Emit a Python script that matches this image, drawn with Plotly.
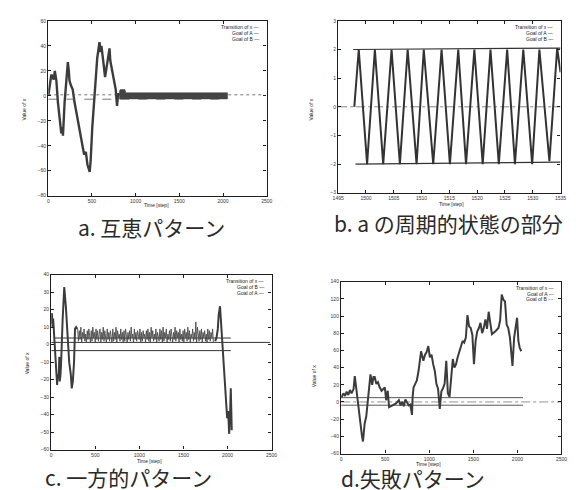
import plotly.graph_objects as go

W, H = 583, 490

# ---------------- data ----------------
# a. reciprocal pattern
a_t = [0, 19, 35, 48, 62, 75, 93, 110, 131, 149, 160, 168, 187, 205, 224, 235, 243, 261, 280,
       300, 317, 335, 354, 372, 392, 410, 430, 448, 474, 485, 504, 522, 541, 560, 586, 598,
       608, 620, 634, 650, 660, 683, 701, 710, 720, 735, 746, 760, 772, 787, 800, 812]
a_x = [0, 10, 17, 15, 13, 20, 12, -5, -22, -30, -25, -32, -5, 15, 27, 20, 12, 8, 5,
       -5, -12, -18, -25, -32, -40, -47, -45, -55, -61, -52, -25, -5, 10, 30, 43, 35,
       40, 30, 25, 15, 20, 32, 38, 28, 24, 20, 16, 10, 5, -8, 2, 0]
a_band_t = [812, 822, 878, 888, 2052]
a_band_hi = [3, 5, 5, 2.5, 2.5]
a_band_lo = [-2.5, -2.5, -2.5, -2.5, -2.5]
a_goalA_t = [0, 2450]
a_goalA_y = [0.8, 0.8]
a_goalB_t = [0, 2052]
a_goalB_y = [-2.7, -2.7]

# b. part of the periodic state of a
b_t = [1497.9, 1498.7, 1500.2, 1501.6, 1503.1, 1504.6, 1506.1, 1507.5, 1509.1, 1510.4,
       1512.1, 1513.6, 1515.1, 1516.6, 1518.0, 1519.5, 1521.0, 1522.4, 1523.9, 1525.4,
       1526.8, 1528.3, 1529.9, 1531.2, 1533.0, 1534.4, 1535.0]
b_x = [0, 2, -2, 2, -2, 2, -2, 2, -2, 2, -2, 2, -2, 2, -2, 2, -2, 2, -2, 2,
       -2, 2, -2, 2, -1.9, 2.05, 1.2]
b_goalA_t = [1497.7, 1535]
b_goalA_y = [2, 2.05]
b_goalB_t = [1498.1, 1535]
b_goalB_y = [-2, -1.93]
b_zero_t = [1495, 1535]
b_zero_y = [0, 0]

# c. one-sided pattern
c_head_t = [0, 8, 15, 22, 30, 37, 48, 56, 67, 74, 85, 92, 96, 104, 111, 130, 148, 167,
            185, 204, 222, 233, 245, 259, 270, 283, 296]
c_head_x = [12, 18, 10, 15, 8, 2, -4, -17, -23, -17, -19, -7, -21, -18, -12, 15, 33, 21,
            4, -10, -17, -25, -21, -10, 9, 10, 9]
c_band = [9, 2, 8, 3, 10, 1, 7, 4, 9, 2, 6, 1, 8, 3, 9, 5, 1, 8, 2, 10, 4, 7, 1, 9, 3, 8,
          2, 6, 9, 1, 7, 3, 10, 2, 8, 4, 1, 9, 3, 7, 2, 8, 5, 1, 9, 2, 7, 3, 10, 1, 8, 4,
          6, 2, 9, 3, 7, 1, 8, 2, 9, 4, 1, 7, 3, 8, 2, 10, 4, 6, 1, 9, 3, 7, 2, 8, 4, 3,
          9, 1, 7, 2, 8, 4, 6, 1, 8, 3, 9, 2, 7, 1, 10, 4, 8, 2, 6, 3, 9, 1, 7, 5, 2, 9,
          3, 8, 1, 10, 2, 7, 4, 9, 1, 6, 3, 8, 2, 9, 5, 1, 7, 3, 10, 2, 8, 4, 7, 1, 9, 3,
          6, 2, 8, 1, 9, 4, 7, 2, 10, 3, 8, 1, 6, 4, 9, 2, 7, 3, 13, 1, 10, 5, 2, 8, 3, 9,
          1, 7, 4, 8, 2, 6, 1, 9, 3, 8, 2, 7, 4, 9, 1]
c_band_start, c_band_end = 300, 1840
c_tail_t = [1860, 1875, 1890, 1900, 1915, 1930, 1948, 1967, 1985, 1996, 2007, 2019, 2030,
            2037, 2044, 2048]
c_tail_x = [2, 4, 9, 17, 22, 10, -2, -15, -34, -42, -38, -51, -38, -25, -40, -49]
c_goalB_t = [37, 2037, None, 0, 2037]
c_goalB_y = [3.8, 3.8, None, -3.4, -3.4]
c_goalA_t = [0, 2481]
c_goalA_y = [1.3, 1.3]

# d. failure pattern
d_t = [0, 26, 44, 63, 82, 100, 118, 141, 155, 181, 211, 237, 248, 267, 285, 304, 322, 333,
       352, 367, 381, 400, 418, 437, 459, 481, 496, 511, 529, 544, 581, 619, 655, 674,
       692, 711, 729, 767, 785, 804, 811, 822, 841, 859, 878, 896, 907, 933, 952, 970,
       989, 1007, 1026, 1044, 1063, 1081, 1100, 1119, 1137, 1156, 1174, 1193, 1211, 1230,
       1248, 1267, 1285, 1304, 1322, 1341, 1359, 1378, 1396, 1415, 1433, 1452, 1470, 1489,
       1507, 1526, 1544, 1563, 1581, 1600, 1618, 1637, 1655, 1674, 1692, 1711, 1748, 1785,
       1804, 1822, 1841, 1859, 1878, 1896, 1915, 1933, 1944, 1963, 1981, 1996, 2011, 2026,
       2044]
d_x = [5, 10, 7, 12, 8, 14, 10, 15, 30, 6, -17, -40, -46, -25, -17, 2, 23, 32,
       20, 29, 29, 21, 23, 17, 13, 15, 17, 2, 13, -6, -4, -2, 2, -4,
       0, -5, 3, -4, -3, -15, 6, 17, 21, 25, 36, 48, 59, 48, 55, 58,
       65, 52, 55, 44, 36, 21, 15, -8, 12, 16, 21, 48, 10, 6,
       33, 50, 40, 44, 52, 59, 67, 71, 69, 75, 101, 88, 86, 78,
       44, 71, 82, 86, 92, 80, 86, 96, 85, 105, 92, 79, 82, 86,
       95, 125, 119, 117, 90, 86, 75, 52, 42, 75, 86, 98, 71, 63,
       59]
d_goalA_t = [0, 2063]
d_goalA_y = [5, 5]
d_zero_t = [0, 2500]
d_zero_y = [0, 0]
d_goalB_t = [0, 2063]
d_goalB_y = [-3.8, -3.8]

captions = ["a. 互恵パターン", "b. a の周期的状態の部分", "c. 一方的パターン", "d.失敗パターン"]

# ---------------- figure ----------------
LINE = "#3c3c3c"
AX = "#1e1e1e"


def px(x):
    return x / W


def py(y):
    return 1 - y / H


fig = go.Figure()


def add_line(x, y, ax, width=1.0, dash="solid", color=LINE):
    fig.add_trace(go.Scatter(x=x, y=y, mode="lines", xaxis="x" + ax, yaxis="y" + ax,
                             line=dict(color=color, width=width, dash=dash),
                             showlegend=False, hoverinfo="skip"))


# a
add_line(a_t, a_x, "", 2.4)
add_line(a_goalA_t, a_goalA_y, "", 0.8, "dot", "#555")
add_line(a_goalB_t, a_goalB_y, "", 0.8, "dash", "#555")
fig.add_trace(go.Scatter(x=a_band_t + a_band_t[::-1], y=a_band_hi + a_band_lo[::-1],
                         mode="lines", fill="toself", fillcolor="#444",
                         line=dict(color="#444", width=0.5), xaxis="x", yaxis="y",
                         showlegend=False, hoverinfo="skip"))
# b
add_line(b_zero_t, b_zero_y, "2", 0.8, "dashdot", "#666")
add_line(b_goalA_t, b_goalA_y, "2", 1.2, "solid", "#333")
add_line(b_goalB_t, b_goalB_y, "2", 1.2, "solid", "#333")
add_line(b_t, b_x, "2", 2.0, "solid", "#333")
# c
n = len(c_band)
c_band_t = [c_band_start + i * (c_band_end - c_band_start) / (n - 1) for i in range(n)]
add_line(c_goalA_t, c_goalA_y, "3", 1.0, "solid", "#333")
add_line(c_goalB_t, c_goalB_y, "3", 1.0, "solid", "#333")
add_line(c_head_t, c_head_x, "3", 2.0)
add_line(c_band_t, c_band, "3", 0.9, "solid", "#4a4a4a")
add_line(c_tail_t, c_tail_x, "3", 2.0)
# d
add_line(d_goalA_t, d_goalA_y, "4", 0.9, "solid", "#444")
add_line(d_zero_t, d_zero_y, "4", 0.8, "dashdot", "#777")
add_line(d_goalB_t, d_goalB_y, "4", 0.9, "solid", "#444")
add_line(d_t, d_x, "4", 2.0)

# axes geometry (pixels)
boxes = {
    "": (35, 258, 10, 187),
    "2": (331, 558, 10, 184),
    "3": (38, 263, 267, 444),
    "4": (334, 559, 274, 448),
}
xr = {"": ([0, 2500], 500), "2": ([1495, 1535], 5), "3": ([0, 2500], 500), "4": ([0, 2500], 500)}
yr = {"": ([-80, 60], 20), "2": ([-3, 3], 1), "3": ([-60, 40], 10), "4": ([-60, 140], 20)}

tickfont = dict(size=5, color="#333", family="Liberation Sans")
for k, (l, r, t, b) in boxes.items():
    common = dict(showline=True, linecolor=AX, linewidth=1.4, mirror="ticks",
                  ticks="inside", ticklen=3, tickcolor=AX, tickwidth=1,
                  showgrid=False, zeroline=False, tickfont=tickfont)
    fig.layout["xaxis" + k] = dict(domain=[px(l), px(r)], range=xr[k][0], dtick=xr[k][1],
                                   anchor="y" + k, **common)
    fig.layout["yaxis" + k] = dict(domain=[py(b), py(t)], range=yr[k][0], dtick=yr[k][1],
                                   anchor="x" + k, **common)

ann = []
# legends
legends = {
    "": ["Transition of x —", "Goal of A —", "Goal of B —"],
    "2": ["Transition of x —", "Goal of A —", "Goal of B —"],
    "3": ["Transition of x —", "Goal of B —", "Goal of A —"],
    "4": ["Transition of x —", "Goal of A ---", "Goal of B -·-"],
}
for k, items in legends.items():
    for i, txt in enumerate(items):
        ann.append(dict(text=txt, xref=("x" + k if k else "x") + " domain",
                        yref=("y" + k if k else "y") + " domain",
                        x=0.975, y=0.965 - i * 0.034, xanchor="right", yanchor="middle",
                        showarrow=False, font=dict(size=5, color="#222", family="Liberation Sans")))

# axis titles
xt = [(145, 196), (447, 195), (138, 456), (423, 459)]
yt = [(10, 100), (303, 100), (13, 357), (307, 370)]
for (x, y) in xt:
    ann.append(dict(text="Time [step]", xref="paper", yref="paper", x=px(x), y=py(y),
                    xanchor="center", yanchor="middle", showarrow=False,
                    font=dict(size=5, color="#222", family="Liberation Sans")))
for (x, y) in yt:
    ann.append(dict(text="Value of x", xref="paper", yref="paper", x=px(x), y=py(y),
                    xanchor="center", yanchor="middle", textangle=-90, showarrow=False,
                    font=dict(size=5, color="#222", family="Liberation Sans")))

# captions
cap_pos = [(140, 219), (444, 215), (117, 472), (407, 473)]
for txt, (x, y) in zip(captions, cap_pos):
    ann.append(dict(text=txt, xref="paper", yref="paper", x=px(x), y=py(y),
                    xanchor="center", yanchor="middle", showarrow=False,
                    font=dict(size=21, color="#2a2a2a", family="Noto Sans CJK JP")))

fig.update_layout(width=W, height=H, margin=dict(l=0, r=0, t=0, b=0),
                  paper_bgcolor="white", plot_bgcolor="white", annotations=ann,
                  showlegend=False)

fig.write_html("out.html")
